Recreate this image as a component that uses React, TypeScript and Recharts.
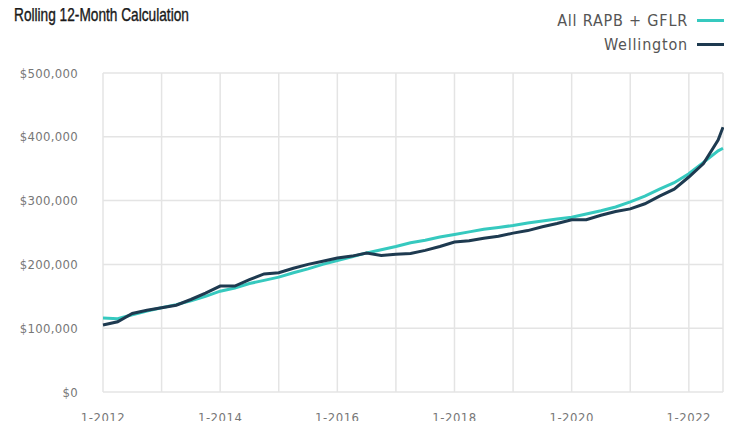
import React from "react";
import { LineChart, Line, XAxis, YAxis, CartesianGrid } from "recharts";

// months since Jan 2012
const months = [
  0, 3, 6, 9, 12, 15, 18, 21, 24, 27, 30, 33, 36, 39, 42, 45, 48, 51, 54, 57,
  60, 63, 66, 69, 72, 75, 78, 81, 84, 87, 90, 93, 96, 99, 102, 105, 108, 111,
  114, 117, 120, 123, 126, 127,
];

const allRapb = [
  116000, 115000, 121000, 127000, 132000, 137000, 143000, 150000, 158000,
  163000, 170000, 175000, 180000, 187000, 193000, 200000, 206000, 212000,
  218000, 223000, 228000, 234000, 238000, 243000, 247000, 251000, 255000,
  258000, 261000, 265000, 268000, 271000, 274000, 279000, 284000, 290000,
  298000, 307000, 318000, 328000, 342000, 360000, 378000, 382000,
];

const wellington = [
  105000, 110000, 123000, 128000, 132000, 136000, 145000, 155000, 166000,
  166000, 176000, 185000, 187000, 194000, 200000, 205000, 210000, 213000,
  218000, 214000, 216000, 217000, 222000, 228000, 235000, 237000, 241000,
  244000, 249000, 253000, 259000, 264000, 270000, 270000, 277000, 283000,
  287000, 295000, 307000, 318000, 337000, 358000, 395000, 415000,
];

const yTicks = [0, 100000, 200000, 300000, 400000, 500000];
const xTickMonths = [0, 12, 24, 36, 48, 60, 72, 84, 96, 108, 120];
const xTickLabels = [
  "1-2012", "", "1-2014", "", "1-2016", "", "1-2018", "", "1-2020", "", "1-2022",
];

const seriesNames = ["All RAPB + GFLR", "Wellington"];
const TEAL = "#36c9bf";
const NAVY = "#1e3a50";
const FONT = "'DejaVu Sans Condensed', 'Liberation Sans', sans-serif";

const data = months.map((m, i) => ({
  m,
  all: allRapb[i],
  wel: wellington[i],
}));

const fmtMoney = (v: number) => "$" + v.toLocaleString("en-US");

const LegendBox = () => (
  <div
    style={{
      position: "absolute",
      top: 8,
      right: 7,
      fontFamily: FONT,
      fontSize: 16,
      color: "#555",
      letterSpacing: 0.8,
    }}
  >
    {[
      [seriesNames[0], TEAL],
      [seriesNames[1], NAVY],
    ].map(([name, color]) => (
      <div
        key={name}
        style={{
          display: "flex",
          justifyContent: "flex-end",
          alignItems: "center",
          height: 24,
        }}
      >
        <span>{name}</span>
        <span
          style={{
            display: "inline-block",
            width: 28,
            height: 3,
            background: color,
            marginLeft: 9,
          }}
        />
      </div>
    ))}
  </div>
);

export default function App() {
  return (
    <div style={{ margin: -8, position: "relative", width: 732, height: 429, background: "#fff" }}>
      <div
        style={{
          position: "absolute",
          left: 14,
          top: 4,
          fontFamily: "'Liberation Sans', Arial, sans-serif",
          fontSize: 19,
          color: "#1a1a1a",
          whiteSpace: "nowrap",
          transform: "scaleX(0.72)",
          transformOrigin: "left top",
          WebkitTextStroke: "0.4px #1a1a1a",
          zIndex: 2,
        }}
      >
        Rolling 12-Month Calculation
      </div>
      <LegendBox />
      <LineChart
        width={732}
        height={429}
        data={data}
        margin={{ top: 73, right: 9, bottom: 7, left: 23 }}
      >
        <CartesianGrid stroke="#e4e4e4" strokeWidth={1.5} />
        <XAxis
          dataKey="m"
          type="number"
          domain={[0, 127]}
          ticks={xTickMonths}
          tickFormatter={(v: number) => xTickLabels[xTickMonths.indexOf(v)]}
          tickLine={false}
          axisLine={false}
          tickSize={0}
          tickMargin={21}
          height={30}
          tick={{ fill: "#777", fontSize: 13, fontFamily: FONT, letterSpacing: 0.5 }}
        />
        <YAxis
          domain={[0, 500000]}
          ticks={yTicks}
          tickFormatter={fmtMoney}
          width={80}
          tickLine={false}
          axisLine={false}
          tickSize={0}
          tickMargin={25}
          tick={{ fill: "#777", fontSize: 13, fontFamily: FONT, letterSpacing: 0.3 }}
        />
        <Line
          dataKey="all"
          name={seriesNames[0]}
          stroke={TEAL}
          strokeWidth={3}
          dot={false}
          isAnimationActive={false}
        />
        <Line
          dataKey="wel"
          name={seriesNames[1]}
          stroke={NAVY}
          strokeWidth={3}
          dot={false}
          isAnimationActive={false}
        />
      </LineChart>
    </div>
  );
}
